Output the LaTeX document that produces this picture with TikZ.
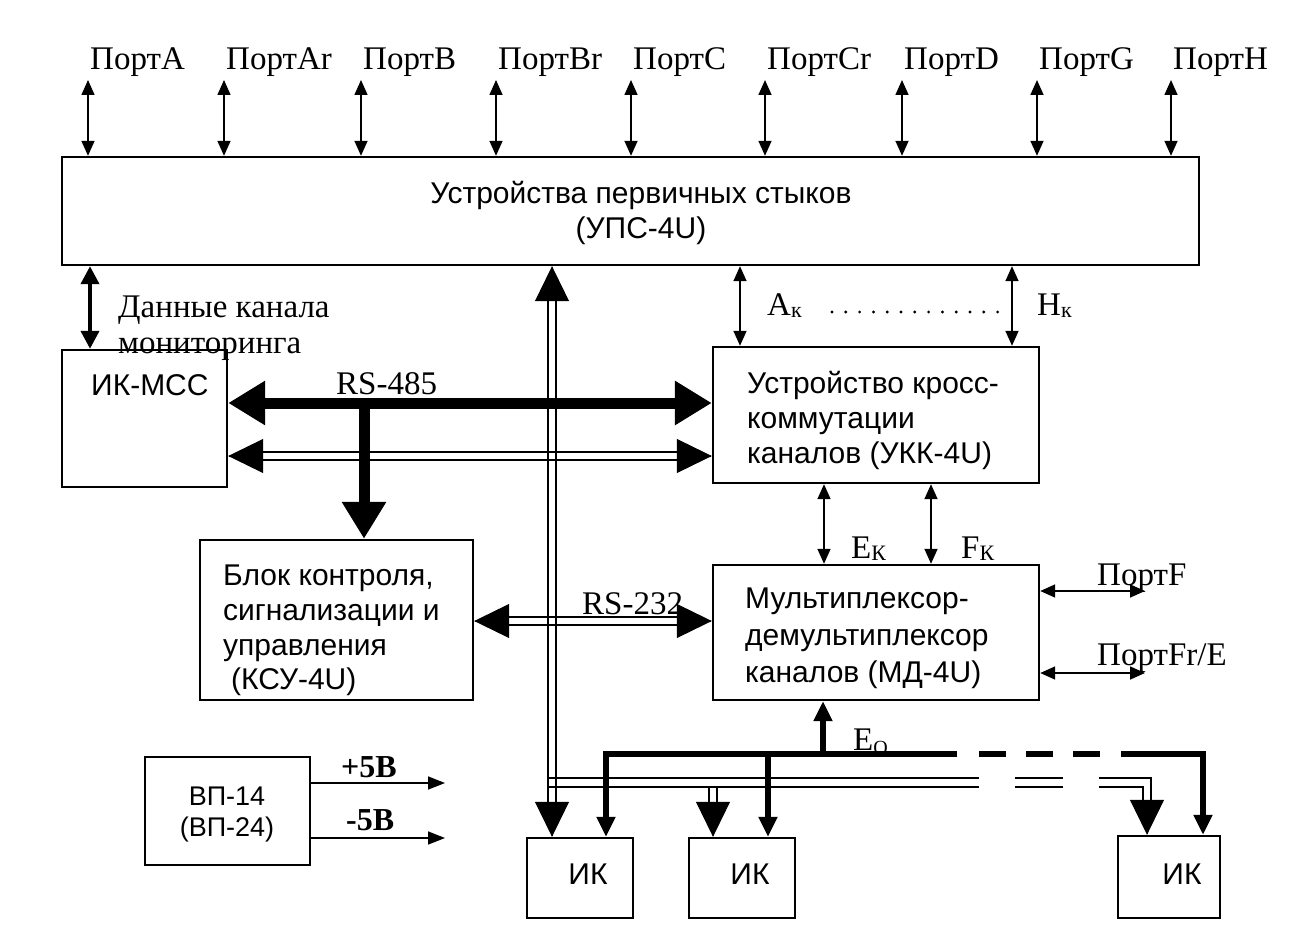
\documentclass[tikz,border=0pt]{standalone}
\usepackage{fontspec}
\setmainfont{Liberation Serif}
\newfontfamily\arialf{Liberation Sans}
\usetikzlibrary{arrows.meta,calc}
\begin{document}
\begin{tikzpicture}[x=1pt,y=-1pt,
  box/.style={draw, line width=2.4pt, inner sep=0pt},
  sanstxt/.style={font=\arialf\fontsize{30}{36}\selectfont, inner sep=0pt},
  smallsans/.style={font=\arialf\fontsize{27}{32}\selectfont, inner sep=0pt},
  sertxt/.style={font=\fontsize{33}{38}\selectfont, inner sep=0pt},
  boldtxt/.style={font=\bfseries\fontsize{32}{38}\selectfont, inner sep=0pt},
  thinarr/.style={line width=1.6pt, {Triangle[length=15pt,width=13pt]}-{Triangle[length=15pt,width=13pt]}},
  onearr/.style={line width=1.6pt, -{Triangle[length=17pt,width=13pt]}},
  medarr/.style={line width=4pt, {Triangle[length=18pt,width=18pt]}-{Triangle[length=18pt,width=18pt]}},
  thickarr/.style={line width=11pt, {Triangle[length=37pt,width=42pt]}-{Triangle[length=37pt,width=42pt]}},
  thickone/.style={line width=11pt, -{Triangle[length=37pt,width=42pt]}},
  bigtip/.style={line width=1pt, -{Triangle[length=35pt,width=34pt]}},
  dline/.style={line width=2pt},
  eobus/.style={line width=5.5pt, line join=miter},
  eotip/.style={eobus, -{Triangle[length=20pt,width=18pt]}},
  dots/.style={line width=3.2pt, line cap=round, dash pattern=on 0pt off 13.8pt}
]
\useasboundingbox (0,0) rectangle (1298,944);
\fill[white] (0,0) rectangle (1298,944);

% ---- boxes
\node[box, minimum width=1137pt, minimum height=108pt] (ups) at (630.5,211) {};
\node[box, minimum width=165pt, minimum height=137pt] (ikm) at (144.5,418.5) {};
\node[box, minimum width=326pt, minimum height=136pt] (ukk) at (876,415) {};
\node[box, minimum width=326pt, minimum height=135pt] (md) at (876,632.5) {};
\node[box, minimum width=273pt, minimum height=160pt] (blk) at (336.5,620) {};
\node[box, minimum width=165pt, minimum height=108pt] (vp) at (227.5,811) {};
\node[box, minimum width=106pt, minimum height=80pt] (ik1) at (580,878) {};
\node[box, minimum width=106pt, minimum height=80pt] (ik2) at (742,878) {};
\node[box, minimum width=102pt, minimum height=82pt] (ik3) at (1169,877) {};

% ---- box texts
\node[sanstxt, anchor=base] (upst1) at (641,204) {Устройства первичных стыков};
\node[sanstxt, anchor=base] (upst2) at (641,238) {(УПС-4U)};
\node[sanstxt, anchor=base west] (ikmt) at (91,395) {ИК-МСС};
\node[sanstxt, anchor=base west] (ukkt1) at (747,393) {Устройство кросс-};
\node[sanstxt, anchor=base west] (ukkt2) at (747,428) {коммутации};
\node[sanstxt, anchor=base west] (ukkt3) at (747,463) {каналов (УКК-4U)};
\node[sanstxt, anchor=base west] (mdt1) at (745,608) {Мультиплексор-};
\node[sanstxt, anchor=base west] (mdt2) at (745,645) {демультиплексор};
\node[sanstxt, anchor=base west] (mdt3) at (745,682) {каналов (МД-4U)};
\node[sanstxt, anchor=base west] (blkt1) at (223,585) {Блок контроля,};
\node[sanstxt, anchor=base west] (blkt2) at (223,620) {сигнализации и};
\node[sanstxt, anchor=base west] (blkt3) at (223,655) {управления};
\node[sanstxt, anchor=base west] (blkt4) at (231,689) {(КСУ-4U)};
\node[smallsans, anchor=base] (vpt1) at (227,805) {ВП-14};
\node[smallsans, anchor=base] (vpt2) at (227,836) {(ВП-24)};
\node[sanstxt, anchor=base] (ik1t) at (588,884) {ИК};
\node[sanstxt, anchor=base] (ik2t) at (750,884) {ИК};
\node[sanstxt, anchor=base] (ik3t) at (1182,884) {ИК};

% ---- ports on top
\foreach \x/\n/\t in {88/pa/ПортA, 224/par/ПортAr, 361/pb/ПортB, 496/pbr/ПортBr,
                      631/pc/ПортC, 765/pcr/ПортCr, 902/pd/ПортD, 1037/pg/ПортG, 1171/ph/ПортH} {
  \coordinate (\n) at (\x,80);
  \draw[thinarr] (\n) -- (\n |- ups.north);
  \node[sertxt, anchor=base west] (\n-l) at (\x+2,70) {\t};
}

% ---- monitoring data
\coordinate (monx) at (90,0);
\draw[medarr] (monx |- ups.south) -- (monx |- ikm.north);
\node[sertxt, anchor=base west] (mon1) at (118,317) {Данные канала};
\node[sertxt, anchor=base west] (mon2) at (118,353) {мониторинга};

% ---- RS-485 thick
\coordinate (r485y) at (0,403);
\draw[thickarr] (r485y -| ikm.east) -- (r485y -| ukk.west);
\node[sertxt, anchor=base west] (r485) at (336,394) {RS-485};
\coordinate (brx) at (364,0);
\draw[thickone] (brx |- r485y) -- (brx |- blk.north);

% ---- RS-485 double
\coordinate (r485d) at (0,456);
\coordinate (r485L) at (r485d -| ikm.east);
\coordinate (r485R) at (r485d -| ukk.west);
\draw[bigtip] ($(r485L)+(1,0)$) -- (r485L);
\draw[bigtip] ($(r485R)+(-1,0)$) -- (r485R);
\draw[dline] ($(r485L)+(30,-4)$) -- ($(r485R)+(-30,-4)$);
\draw[dline] ($(r485L)+(30,4)$) -- ($(r485R)+(-30,4)$);

% ---- RS-232 double
\coordinate (r232d) at (0,621);
\coordinate (r232L) at (r232d -| blk.east);
\coordinate (r232R) at (r232d -| md.west);
\draw[bigtip] ($(r232L)+(1,0)$) -- (r232L);
\draw[bigtip] ($(r232R)+(-1,0)$) -- (r232R);
\draw[dline] ($(r232L)+(30,-4)$) -- ($(r232R)+(-30,-4)$);
\draw[dline] ($(r232L)+(30,4)$) -- ($(r232R)+(-30,4)$);
\node[sertxt, anchor=base west] (r232) at (582,614) {RS-232};

% ---- vertical double bus
\coordinate (dvx) at (552,0);
\coordinate (dvT) at (dvx |- ups.south);
\coordinate (dvB) at (dvx |- ik1.north);
\draw[bigtip] ($(dvT)+(0,1)$) -- (dvT);
\draw[bigtip] ($(dvB)+(0,-1)$) -- (dvB);
\draw[dline] ($(dvT)+(-4,30)$) -- ($(dvB)+(-4,-30)$);
\draw[dline] ($(dvT)+(4,30)$) -- ($(dvB)+(4,-30)$);

% ---- horizontal double bus to IK
\coordinate (hbU) at (548,778);
\coordinate (hbL) at (548,787);
\draw[dline] (hbU) -- (979,778);
\draw[dline] (hbL) -- (979,787);
\draw[dline] (1015,778) -- (1063,778);
\draw[dline] (1015,787) -- (1063,787);
\coordinate (b3x) at (1147,0);
\coordinate (b3T) at (b3x |- ik3.north);
\draw[dline, line join=miter] (1099,778) -- (1151,778) -- ($(b3T)+(4,-33)$);
\draw[dline, line join=miter] (1099,787) -- (1143,787) -- ($(b3T)+(-4,-33)$);
\draw[bigtip] ($(b3T)+(0,-1)$) -- (b3T);
\coordinate (b2x) at (713,0);
\coordinate (b2T) at (b2x |- ik2.north);
\draw[dline] (709,787) -- ($(b2T)+(-4,-33)$);
\draw[dline] (717,787) -- ($(b2T)+(4,-33)$);
\draw[bigtip] ($(b2T)+(0,-1)$) -- (b2T);

% ---- Eo thick bus
\coordinate (eoy) at (0,754);
\coordinate (eo1x) at (606,0);
\coordinate (eo2x) at (768,0);
\coordinate (eoux) at (823,0);
\coordinate (eo3x) at (1203,0);
\draw[eotip] (957,754) -- (eo1x |- eoy) -- (eo1x |- ik1.north);
\draw[eobus, dash pattern=on 27pt off 20pt] (979,754) -- (1100,754);
\draw[eotip] (1121,754) -- (eo3x |- eoy) -- (eo3x |- ik3.north);
\draw[eotip] (eo2x |- eoy) -- (eo2x |- ik2.north);
\draw[eotip] (eoux |- eoy) -- (eoux |- md.south);
\node[sertxt, anchor=base west] (eo) at (853,750) {E\raisebox{-4pt}{\fontsize{20}{20}\selectfont O}};

% ---- Ak ... Hk
\coordinate (akx) at (740,0);
\coordinate (hkx) at (1012,0);
\draw[thinarr] (akx |- ups.south) -- (akx |- ukk.north);
\draw[thinarr] (hkx |- ups.south) -- (hkx |- ukk.north);
\node[sertxt, anchor=base west] (ak) at (767,315) {A\raisebox{-2pt}{\fontsize{22}{22}\selectfont к}};
\node[sertxt, anchor=base west] (hk) at (1037,315) {H\raisebox{-2pt}{\fontsize{22}{22}\selectfont к}};
\draw[dots] (832,312) -- (998,312);

% ---- Ek, Fk
\coordinate (ekx) at (824,0);
\coordinate (fkx) at (931,0);
\draw[thinarr] (ekx |- ukk.south) -- (ekx |- md.north);
\draw[thinarr] (fkx |- ukk.south) -- (fkx |- md.north);
\node[sertxt, anchor=base west] (ek) at (851,558) {E\raisebox{-2pt}{\fontsize{22}{22}\selectfont К}};
\node[sertxt, anchor=base west] (fk) at (961,558) {F\raisebox{-2pt}{\fontsize{22}{22}\selectfont К}};

% ---- PortF, PortFr/E
\coordinate (pfy) at (0,591);
\coordinate (pfE) at (1145,591);
\draw[thinarr] (pfy -| md.east) -- (pfE);
\node[sertxt, anchor=base west] (pfl) at (1097,585) {ПортF};
\coordinate (pfry) at (0,673);
\coordinate (pfrE) at (1145,673);
\draw[thinarr] (pfry -| md.east) -- (pfrE);
\node[sertxt, anchor=base west] (pfrl) at (1097,665) {ПортFr/E};

% ---- power supply
\coordinate (p5y) at (0,783);
\coordinate (p5E) at (445,783);
\coordinate (m5y) at (0,838);
\coordinate (m5E) at (445,838);
\draw[onearr] (p5y -| vp.east) -- (p5E);
\draw[onearr] (m5y -| vp.east) -- (m5E);
\node[boldtxt, anchor=base west] (p5) at (341,777) {+5В};
\node[boldtxt, anchor=base west] (m5) at (346,830) {-5В};
\end{tikzpicture}
\end{document}
